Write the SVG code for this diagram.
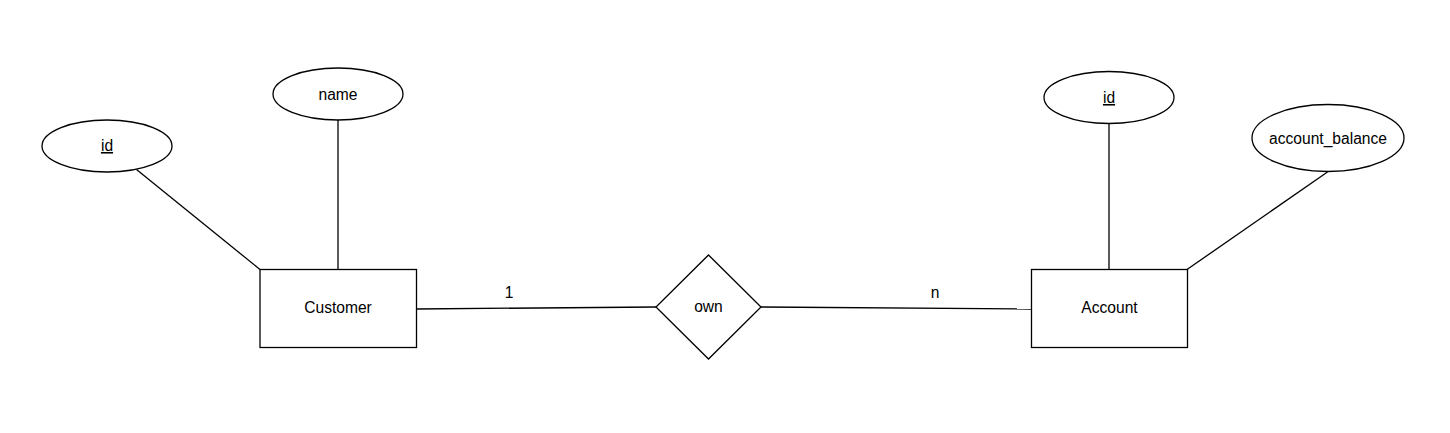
<svg xmlns="http://www.w3.org/2000/svg" width="1450" height="433" viewBox="0 0 1450 433">
<style>
.s{fill:#fff;stroke:#000;stroke-width:1.3}
.c{fill:none;stroke:#000;stroke-width:1.3}
text{font-family:"Liberation Sans",Arial,sans-serif;font-size:15.6px;fill:#000;text-anchor:middle}
.u{text-decoration:underline}
</style>
<rect width="1450" height="433" fill="#fff"/>
<g id="connectors">
<line class="c" x1="136.5" y1="169.5" x2="260" y2="269.5"/>
<line class="c" x1="338" y1="120" x2="338" y2="269.5"/>
<line class="c" x1="1109" y1="123.5" x2="1109" y2="269.5"/>
<line class="c" x1="1327.5" y1="172" x2="1187" y2="269.5"/>
<line class="c" x1="416.5" y1="309" x2="656" y2="307"/>
<line class="c" x1="761" y1="307" x2="1031.5" y2="309"/>
<text x="509" y="298">1</text>
<text x="935" y="298">n</text>
</g>
<g id="customer">
<rect class="s" x="260" y="269.5" width="156.5" height="78"/>
<text x="338" y="313">Customer</text>
</g>
<g id="customer_id">
<ellipse class="s" cx="107" cy="146" rx="65" ry="26"/>
<text class="u" x="107" y="151">id</text>
</g>
<g id="customer_name">
<ellipse class="s" cx="338" cy="94" rx="65" ry="26"/>
<text x="338" y="99.5">name</text>
</g>
<g id="own">
<polygon class="s" points="708.5,255 761,307 708.5,359 656,307"/>
<text x="708.5" y="311.5">own</text>
</g>
<g id="account">
<rect class="s" x="1031.5" y="269.5" width="156" height="78"/>
<text x="1109.5" y="313">Account</text>
</g>
<g id="account_id">
<ellipse class="s" cx="1109" cy="97.5" rx="65" ry="26"/>
<text class="u" x="1109" y="103">id</text>
</g>
<g id="account_balance">
<ellipse class="s" cx="1328" cy="138" rx="76" ry="33.5"/>
<text x="1328" y="143.5">account_balance</text>
</g>
</svg>
